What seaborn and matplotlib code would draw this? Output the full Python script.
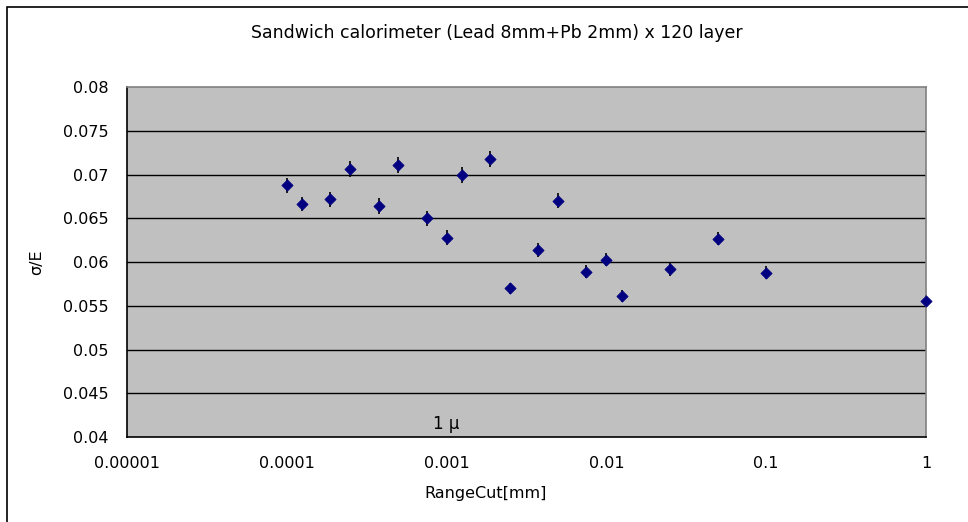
import numpy as np
import pandas as pd
import matplotlib
matplotlib.use("Agg")
import matplotlib.pyplot as plt
import matplotlib.ticker as mticker
from matplotlib.patches import Rectangle
import seaborn as sns

# RangeCut [mm] vs energy resolution
range_cut = [1e-4, 1.25e-4, 1.875e-4, 2.5e-4, 3.75e-4, 5e-4, 7.5e-4, 1e-3,
             1.25e-3, 1.875e-3, 2.5e-3, 3.75e-3, 5e-3, 7.5e-3, 1e-2, 1.25e-2,
             2.5e-2, 5e-2, 1e-1, 1.0]
sigma_e = [0.0688, 0.0667, 0.0672, 0.0707, 0.0664, 0.0711, 0.0650, 0.0628,
           0.0700, 0.0718, 0.0570, 0.0614, 0.0670, 0.0589, 0.0603, 0.0561,
           0.0592, 0.0627, 0.0588, 0.0556]
sigma_err = [0.00088, 0.0008, 0.00084, 0.00092, 0.00092, 0.00092, 0.00088, 0.00086,
             0.00092, 0.00092, 0.00065, 0.00077, 0.00086, 0.00074, 0.00077, 0.00069,
             0.00077, 0.00074, 0.00077, 0.0006]

x_ticks = [1e-5, 1e-4, 1e-3, 1e-2, 1e-1, 1]
x_tick_labels = ["0.00001", "0.0001", "0.001", "0.01", "0.1", "1"]
y_ticks = [0.04, 0.045, 0.05, 0.055, 0.06, 0.065, 0.07, 0.075, 0.08]
y_tick_labels = ["0.04", "0.045", "0.05", "0.055", "0.06", "0.065", "0.07", "0.075", "0.08"]

df = pd.DataFrame({"range_cut": range_cut, "sigma_e": sigma_e, "err": sigma_err})

sns.set_style("white")
plt.rcParams['font.family'] = ['DejaVu Sans', 'Noto Sans CJK JP']
plt.rcParams['text.color'] = 'black'
plt.rcParams['axes.labelcolor'] = 'black'
plt.rcParams['xtick.color'] = 'black'
plt.rcParams['ytick.color'] = 'black'

fig = plt.figure(figsize=(9.68, 5.22), dpi=100)
ax = fig.add_axes([0.1312, 0.1628, 0.8254, 0.6700])
ax.set_facecolor("#C0C0C0")

# outer chart frame (right/bottom edges fall outside the image)
fig.patches.append(Rectangle((7 / 968, -0.1), 1.2, (522 - 7) / 522 + 0.1,
                             transform=fig.transFigure, fill=False,
                             edgecolor="black", linewidth=1.2, zorder=0))

ax.set_xscale("log")
ax.set_xlim(1e-5, 1)
ax.set_ylim(0.04, 0.08)

for y in y_ticks[1:-1]:
    ax.axhline(y, color="black", linewidth=1, zorder=1)

ax.errorbar(df["range_cut"], df["sigma_e"], yerr=df["err"], fmt="none",
            ecolor="black", elinewidth=1.2, capsize=0, zorder=2, clip_on=False)
sns.scatterplot(data=df, x="range_cut", y="sigma_e", marker="D", s=32,
                color="#000080", edgecolor="#000080", linewidth=0.6,
                ax=ax, zorder=3, clip_on=False, legend=False)

ax.xaxis.set_minor_locator(mticker.NullLocator())
ax.set_xticks(x_ticks)
ax.set_xticklabels(x_tick_labels, fontsize=11.5)
ax.set_yticks(y_ticks)
ax.set_yticklabels(y_tick_labels, fontsize=11.5)
ax.tick_params(axis="x", direction="in", length=4, width=1, color="black", pad=14)
ax.tick_params(axis="y", direction="in", length=0, pad=13)

for side in ["top", "right"]:
    ax.spines[side].set_color("#808080")
    ax.spines[side].set_linewidth(1.2)
for side in ["left", "bottom"]:
    ax.spines[side].set_color("black")
    ax.spines[side].set_linewidth(1.2)

ax.set_xlabel("RangeCut[mm]", fontsize=11.5)
ax.xaxis.set_label_coords(0.449, -0.14)
ax.set_ylabel("σ/E", fontsize=11.5, labelpad=14)
fig.text(497 / 968, (522 - 33) / 522,
         "Sandwich calorimeter (Lead 8mm+Pb 2mm) x 120 layer",
         ha="center", va="center", fontsize=12.5)

ax.text(1e-3, 0.0405, "1 μ", ha="center", va="bottom", fontsize=12)

fig.savefig("out.png", dpi=100)
